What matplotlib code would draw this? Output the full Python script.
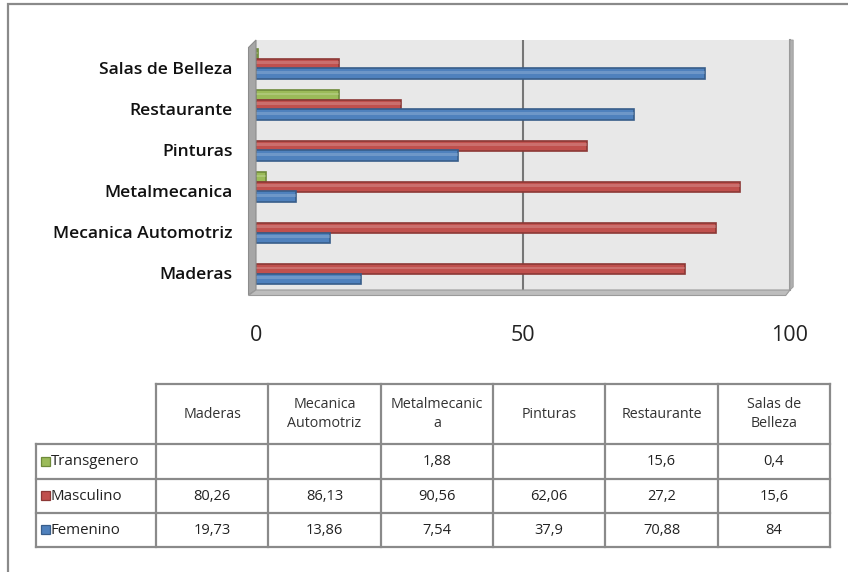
import matplotlib
matplotlib.use("Agg")
import matplotlib.pyplot as plt
from matplotlib.patches import Polygon, Rectangle

plt.rcParams['font.family'] = ['Open Sans', 'DejaVu Sans']

categories = ["Maderas", "Mecanica Automotriz", "Metalmecanica", "Pinturas", "Restaurante", "Salas de Belleza"]
header_labels = ["Maderas", "Mecanica\nAutomotriz", "Metalmecanic\na", "Pinturas", "Restaurante", "Salas de\nBelleza"]
series_names = ["Transgenero", "Masculino", "Femenino"]
transgenero = [None, None, 1.88, None, 15.6, 0.4]
masculino = [80.26, 86.13, 90.56, 62.06, 27.2, 15.6]
femenino = [19.73, 13.86, 7.54, 37.9, 70.88, 84]
table_text = {
    "Transgenero": ["", "", "1,88", "", "15,6", "0,4"],
    "Masculino": ["80,26", "86,13", "90,56", "62,06", "27,2", "15,6"],
    "Femenino": ["19,73", "13,86", "7,54", "37,9", "70,88", "84"],
}
x_ticks = [0, 50, 100]

colors = {"Transgenero": "#9BBB59", "Masculino": "#C0504D", "Femenino": "#4F81BD"}
edges = {"Transgenero": "#6E8A3A", "Masculino": "#8C3836", "Femenino": "#385D8A"}
offsets = {"Transgenero": 0.335, "Masculino": 0.10, "Femenino": -0.135}
values = {"Transgenero": transgenero, "Masculino": masculino, "Femenino": femenino}

W, H = 848, 572
fig = plt.figure(figsize=(W / 100, H / 100), dpi=100)
fig.patch.set_facecolor("white")

# outer frame
fig.patches.append(Rectangle((8 / W, -0.1), 1.2, 1 - 4 / H + 0.1, transform=fig.transFigure,
                             fill=False, edgecolor="#8a8a8a", linewidth=1.6))

ax = fig.add_axes([256 / W, (H - 290) / H, (790 - 256) / W, (290 - 40) / H])
ax.set_facecolor("#E8E8E8")
ax.set_xlim(0, 100)
ax.set_ylim(-0.41, 5.68)

bh = 0.25
for s in series_names:
    for i, v in enumerate(values[s]):
        if v is None:
            continue
        ax.barh(i + offsets[s], v, height=bh, left=0, color=colors[s], edgecolor=edges[s],
                linewidth=1.2, zorder=3)
        # light highlight stripe
        ax.barh(i + offsets[s] + bh * 0.12, v, height=bh * 0.25, left=0, color="white",
                alpha=0.18, linewidth=0, zorder=4)

ax.axvline(50, color="#767676", linewidth=1.5, zorder=1)

for sp in ["left", "bottom", "top"]:
    ax.spines[sp].set_visible(False)
ax.spines["right"].set_color("#9a9a9a")
ax.spines["right"].set_linewidth(1.5)

# 3D wall decorations
ax.add_patch(Polygon([(-0.014, -0.02), (-0.014, 0.97), (0, 1.0), (0, 0)], closed=True,
                     transform=ax.transAxes, clip_on=False, facecolor="#A6A6A6",
                     edgecolor="#8c8c8c", linewidth=0.8, zorder=5))
ax.add_patch(Polygon([(-0.014, -0.022), (0.992, -0.022), (1.0, 0), (0, 0)], closed=True,
                     transform=ax.transAxes, clip_on=False, facecolor="#BDBDBD",
                     edgecolor="#9a9a9a", linewidth=0.8, zorder=5))
ax.add_patch(Polygon([(1.0, 0), (1.006, 0.012), (1.006, 1.0), (1.0, 1.0)], closed=True,
                     transform=ax.transAxes, clip_on=False, facecolor="#B0B0B0",
                     edgecolor="#9a9a9a", linewidth=0.6, zorder=5))

ax.set_yticks(range(len(categories)))
ax.set_yticklabels(categories, fontsize=12.6, fontweight="semibold", color="#111111")
ax.set_xticks(x_ticks)
ax.set_xticklabels([str(t) for t in x_ticks], fontsize=15.5, color="#222222")
ax.tick_params(axis="y", length=0, pad=17)
ax.tick_params(axis="x", length=0, pad=25)

# data table
tx = fig.add_axes([0, 0, 1, 1], facecolor="none")
tx.set_xlim(0, W)
tx.set_ylim(H, 0)
tx.axis("off")

col_x = [156 + k * (830 - 156) / 6 for k in range(7)]
left_x = 36
row_y = [384, 444, 479, 513, 547]
lc = "#8a8a8a"
lw = 1.6
tx.plot([col_x[0], col_x[-1]], [row_y[0], row_y[0]], color=lc, lw=lw)
for x in col_x:
    tx.plot([x, x], [row_y[0], row_y[-1]], color=lc, lw=lw)
for y in row_y[1:]:
    tx.plot([left_x, col_x[-1]], [y, y], color=lc, lw=lw)
tx.plot([left_x, left_x], [row_y[1], row_y[-1]], color=lc, lw=lw)

for k, lab in enumerate(header_labels):
    cx = (col_x[k] + col_x[k + 1]) / 2
    tx.text(cx, (row_y[0] + row_y[1]) / 2, lab, ha="center", va="center", fontsize=10.3,
            color="#333333", linespacing=1.4)

for r, s in enumerate(series_names):
    cy = (row_y[r + 1] + row_y[r + 2]) / 2
    tx.add_patch(Rectangle((41, cy - 5), 9, 9, facecolor=colors[s], edgecolor=edges[s], lw=0.9))
    tx.text(51, cy, s, ha="left", va="center", fontsize=10.8, color="#222222")
    for k, t in enumerate(table_text[s]):
        cx = (col_x[k] + col_x[k + 1]) / 2
        tx.text(cx, cy, t, ha="center", va="center", fontsize=10.5, color="#222222")

fig.savefig("out.png", dpi=100)
